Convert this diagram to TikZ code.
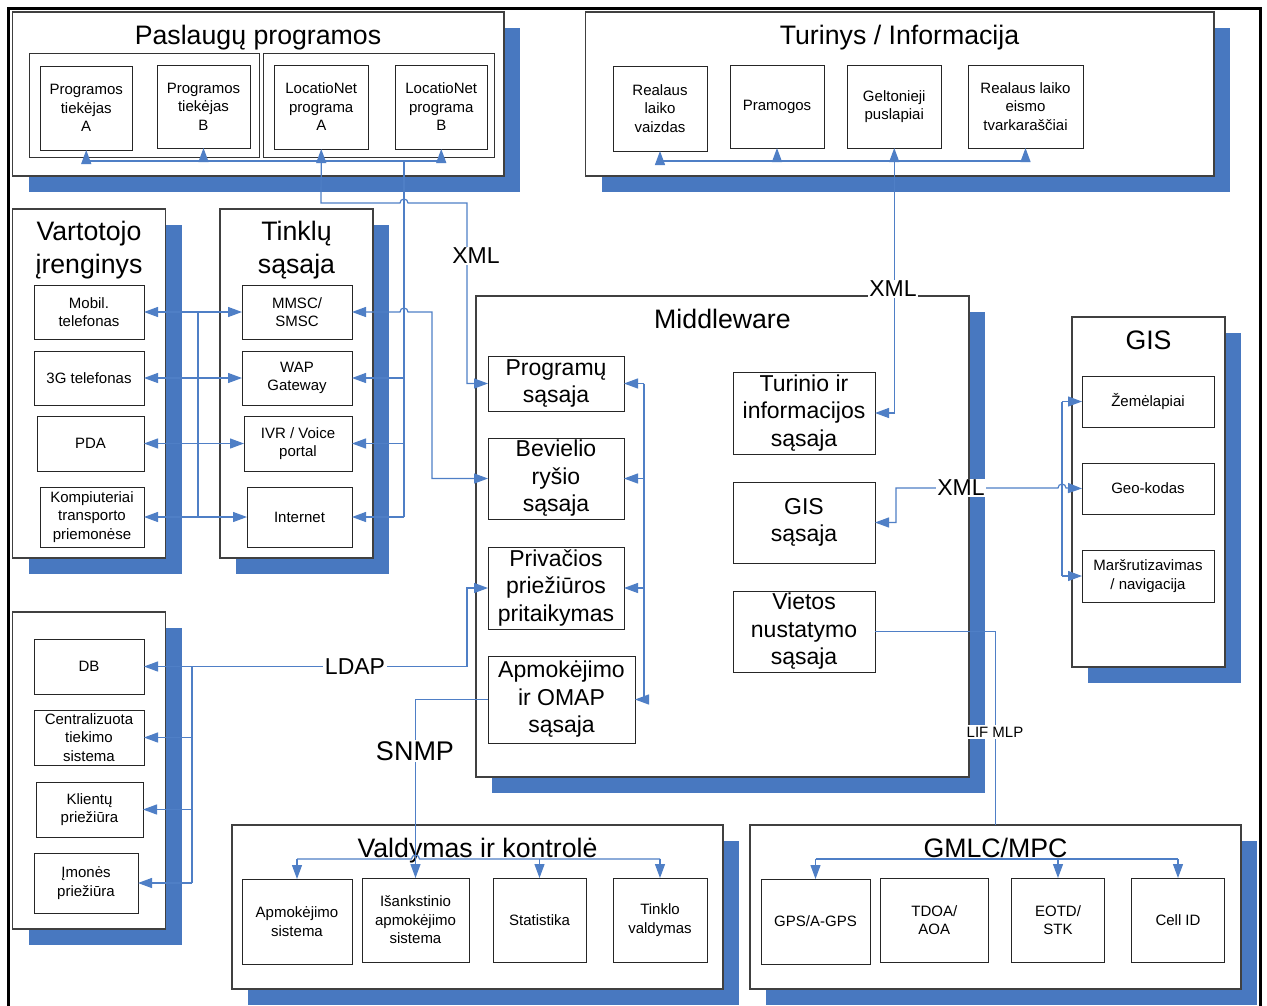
\documentclass[tikz,border=0pt]{standalone}
\usepackage{fontspec}
\setmainfont{Liberation Sans}
\usetikzlibrary{arrows.meta,shadows}
\definecolor{shadeblue}{RGB}{72,120,192}
\definecolor{wireblue}{RGB}{79,127,198}

\begin{document}
\begin{tikzpicture}[x=1pt,y=-1pt,
  >={Triangle[length=14pt,width=10pt]},
  spanbox/.style n args={4}{minimum width={#3-#1},minimum height={#4-#2},
    at={({(#1+#3)/2},{(#2+#4)/2})}},
  panel/.style={draw=black!75,line width=1.2pt,fill=white,inner sep=0pt,outer sep=0pt,
    drop shadow={shadow xshift=16pt,shadow yshift=-16pt,fill=shadeblue,opacity=1}},
  group/.style={draw=black!80,line width=1pt,inner sep=0pt,outer sep=0pt},
  unit/.style={draw=black!85,line width=1pt,fill=white,inner sep=0pt,outer sep=0pt,
    align=center,font=\fontsize{15}{18.5}\selectfont},
  bigunit/.style={unit,font=\fontsize{23}{27.5}\selectfont},
  heading/.style={anchor=base,inner sep=0pt,font=\fontsize{26.7}{32}\selectfont},
  conn/.style={draw=wireblue,line width=1.2pt},
  tag/.style={fill=white,inner sep=1.5pt,font=\fontsize{23}{27}\selectfont},
]
\useasboundingbox (0,0) rectangle (1267,1005);
\clip (0,0) rectangle (1267,1005);

% outer frame
\draw[line width=3pt] (8.5,1020) -- (8.5,8.5) -- (1260.5,8.5) -- (1260.5,1020);

% ---------------- service programs
\node[panel,spanbox={12.5}{12}{504}{176}] (svc) {};
\node[heading] (svcT) at (258,44) {Paslaugų programos};
\node[group,spanbox={29.5}{53}{259.5}{157}] (grpL) {};
\node[group,spanbox={263}{53}{494}{157}] (grpR) {};
\node[unit,spanbox={40}{66}{132.5}{150}] (pA) {Programos\\tiekėjas\\A};
\node[unit,spanbox={157}{65}{250}{148}] (pB) {Programos\\tiekėjas\\B};
\node[unit,spanbox={274.5}{65}{368}{149}] (lA) {LocatioNet\\programa\\A};
\node[unit,spanbox={395}{65}{487.5}{149}] (lB) {LocatioNet\\programa\\B};

% ---------------- content
\node[panel,spanbox={585.5}{12}{1214}{176}] (cnt) {};
\node[heading] (cntT) at (899.5,44) {Turinys / Informacija};
\node[unit,spanbox={613}{66}{707}{151}] (rlv) {Realaus\\laiko\\vaizdas};
\node[unit,spanbox={730}{65}{824}{148}] (pram) {Pramogos};
\node[unit,spanbox={847}{65}{941.5}{148}] (gelt) {Geltonieji\\puslapiai};
\node[unit,spanbox={968}{65}{1083}{148}] (reis) {Realaus laiko\\eismo\\tvarkaraščiai};

% ---------------- user devices
\node[panel,spanbox={12.7}{209}{165.7}{558}] (dev) {};
\node[heading] (devT1) at (89,240) {Vartotojo};
\node[heading] (devT2) at (89,273) {įrenginys};
\node[unit,spanbox={34}{285}{144}{339}] (mob) {Mobil.\\telefonas};
\node[unit,spanbox={34}{351}{144}{405}] (g3) {3G telefonas};
\node[unit,spanbox={37}{416}{144}{471}] (pda) {PDA};
\node[unit,spanbox={40}{487}{144}{547}] (komp) {Kompiuteriai\\transporto\\priemonėse};

% ---------------- network interface
\node[panel,spanbox={220}{209}{373}{558}] (net) {};
\node[heading] (netT1) at (296.5,240) {Tinklų};
\node[heading] (netT2) at (296.5,273) {sąsaja};
\node[unit,spanbox={242}{285}{352}{339}] (mmsc) {MMSC/\\SMSC};
\node[unit,spanbox={242}{351}{352}{405}] (wap) {WAP\\Gateway};
\node[unit,spanbox={244}{416}{352}{471}] (ivr) {IVR / Voice\\portal};
\node[unit,spanbox={247}{487}{352}{547}] (inet) {Internet};

% ---------------- middleware
\node[panel,spanbox={476}{296}{969}{777}] (mw) {};
\node[heading] (mwT) at (722.5,328) {Middleware};
\node[bigunit,spanbox={488}{356}{624}{411}] (prog) {Programų\\sąsaja};
\node[bigunit,spanbox={488}{438}{624}{519}] (bev) {Bevielio\\ryšio\\sąsaja};
\node[bigunit,spanbox={488}{547}{624}{629}] (priv) {Privačios\\priežiūros\\pritaikymas};
\node[bigunit,spanbox={488}{656}{635}{743}] (apm) {Apmokėjimo\\ir OMAP\\sąsaja};
\node[bigunit,spanbox={733}{372}{875}{454}] (turinio) {Turinio ir\\informacijos\\sąsaja};
\node[bigunit,spanbox={733}{482}{875}{563}] (gisif) {GIS\\sąsaja};
\node[bigunit,spanbox={733}{591}{875}{672}] (viet) {Vietos\\nustatymo\\sąsaja};

% ---------------- GIS
\node[panel,spanbox={1072}{317}{1225}{667}] (gis) {};
\node[heading] (gisT) at (1148.5,349) {GIS};
\node[unit,spanbox={1082}{376}{1214}{427}] (zem) {Žemėlapiai};
\node[unit,spanbox={1082}{463}{1214}{514}] (geo) {Geo-kodas};
\node[unit,spanbox={1082}{550}{1214}{602}] (mars) {Maršrutizavimas\\/ navigacija};

% ---------------- back office
\node[panel,spanbox={12.7}{612}{165.7}{929}] (bo) {};
\node[unit,spanbox={34}{639}{144}{694}] (db) {DB};
\node[unit,spanbox={34}{710}{144}{765}] (cts) {Centralizuota\\tiekimo\\sistema};
\node[unit,spanbox={36}{782}{143}{837}] (kp) {Klientų\\priežiūra};
\node[unit,spanbox={34}{853}{138}{913}] (ip) {Įmonės\\priežiūra};

% ---------------- management
\node[panel,spanbox={232}{825}{723}{989}] (mgmt) {};
\node[heading] (mgmtT) at (477.5,857) {Valdymas ir kontrolė};
\node[unit,spanbox={242}{879}{352}{964}] (apms) {Apmokėjimo\\sistema};
\node[unit,spanbox={362}{878}{469}{962}] (isank) {Išankstinio\\apmokėjimo\\sistema};
\node[unit,spanbox={493}{878}{586}{962}] (stat) {Statistika};
\node[unit,spanbox={613}{878}{707}{962}] (tinv) {Tinklo\\valdymas};

% ---------------- GMLC
\node[panel,spanbox={750}{825}{1241}{989}] (gmlc) {};
\node[heading] (gmlcT) at (995.5,857) {GMLC/MPC};
\node[unit,spanbox={761}{879}{870}{964}] (gps) {GPS/A-GPS};
\node[unit,spanbox={880.5}{878}{988}{962}] (tdoa) {TDOA/\\AOA};
\node[unit,spanbox={1011.5}{878}{1104.5}{962}] (eotd) {EOTD/\\STK};
\node[unit,spanbox={1131.5}{878}{1224.5}{962}] (cell) {Cell ID};

% ================= connectors
\coordinate (pbus) at (0,161);
\coordinate (vx) at (404,161);
\coordinate (mx) at (644,0);
\coordinate (lx) at (192,0);
\coordinate (dx) at (198,0);
\coordinate (gx) at (1062,0);
\coordinate (vbus) at (0,859);

% service bus
\draw[conn] (pA.south |- pbus) -- (lB.south |- pbus);
\foreach \n in {pA,pB,lA,lB} \draw[conn,->] (\n.south |- pbus) -- (\n.south);
\draw[conn,->] (lA.south |- pbus) -- (321,203) -- (400,203)
  arc[start angle=180,end angle=0,radius=4pt] -- (467,203) -- (467,383.5) -- (prog.west);
\draw[conn] (vx) -- (vx |- inet.east);
\draw[conn,->] (vx |- wap.east) -- (wap.east);
\draw[conn,->] (vx |- ivr.east) -- (ivr.east);
\draw[conn,->] (vx |- inet.east) -- (inet.east);
\draw[conn,<->] (mmsc.east) -- (400,312) arc[start angle=180,end angle=0,radius=4pt]
  -- (432,312) -- (432,478.5) -- (bev.west);

% devices to network
\draw[conn] (dx |- mob.east) -- (dx |- komp.east);
\draw[conn,<->] (mob.east) -- (mmsc.west);
\draw[conn,<->] (g3.east) -- (wap.west);
\draw[conn,<->] (pda.east) -- (ivr.west);
\draw[conn,<->] (komp.east) -- (inet.west);

% content bus
\draw[conn] (rlv.south |- pbus) -- (reis.south |- pbus);
\foreach \n in {rlv,pram,gelt,reis} \draw[conn,->] (\n.south |- pbus) -- (\n.south);
\draw[conn,->] (gelt.south |- pbus) -- (gelt.south |- turinio.east) -- (turinio.east);

% middleware internal bus
\draw[conn] (mx |- prog.east) -- (mx |- apm.east);
\foreach \n in {prog,bev,priv,apm} \draw[conn,->] (mx |- \n.east) -- (\n.east);

% GIS
\draw[conn,<->] (gisif.east) -- (896,522.5) -- (896,488) -- (1058,488)
  arc[start angle=180,end angle=0,radius=4pt] -- (geo.west);
\draw[conn] (gx |- zem.west) -- (gx |- mars.west);
\draw[conn,->] (gx |- zem.west) -- (zem.west);
\draw[conn,->] (gx |- mars.west) -- (mars.west);

% location to GMLC
\draw[conn] (viet.east) -| (gmlc.north);
\draw[conn] (gps.north |- vbus) -- (cell.north |- vbus);
\foreach \n in {gps,eotd,cell} \draw[conn,->] (\n.north |- vbus) -- (\n.north);

% LDAP
\draw[conn,<->] (priv.west) -- (467,588) -- (467,666.5) -- (db.east);
\draw[conn] (lx |- db.east) -- (lx |- ip.east);
\foreach \n in {cts,kp,ip} \draw[conn,->] (lx |- \n.east) -- (\n.east);

% SNMP and management bus
\draw[conn,->] (apm.west) -- (isank.north |- apm.west) -- (isank.north);
\draw[conn] (apms.north |- vbus) -- (411.5,859) arc[start angle=180,end angle=0,radius=4pt]
  -- (tinv.north |- vbus);
\foreach \n in {apms,stat,tinv} \draw[conn,->] (\n.north |- vbus) -- (\n.north);

% protocol labels
\node[tag] (xmlA) at (476,256) {XML};
\node[tag] (xmlB) at (893,289) {XML};
\node[tag] (xmlC) at (961,488) {XML};
\node[tag] (ldap) at (355,666.5) {LDAP};
\node[tag,font=\fontsize{27}{30}\selectfont] (snmp) at (415,751) {SNMP};
\node[tag,font=\fontsize{15}{18}\selectfont] (lif) at (995,732) {LIF MLP};
\end{tikzpicture}
\end{document}
